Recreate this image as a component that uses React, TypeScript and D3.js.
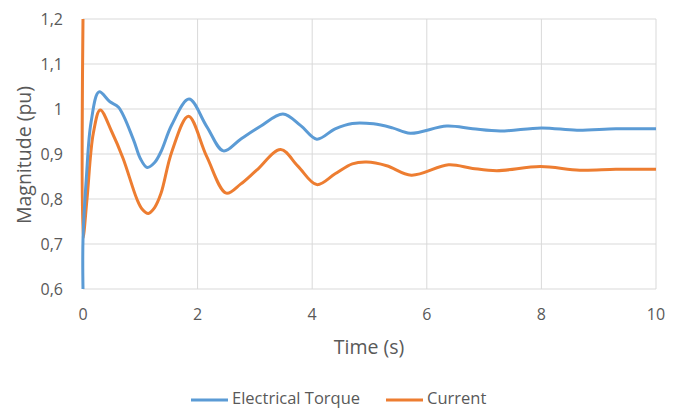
import React from "react";
import * as d3 from "d3";

const xTicks = [0, 2, 4, 6, 8, 10];
const yTicks = [0.6, 0.7, 0.8, 0.9, 1.0, 1.1, 1.2];
const yTickLabels = ["0,6", "0,7", "0,8", "0,9", "1", "1,1", "1,2"];

const torqueT = [0, 0, 0.06, 0.14, 0.28, 0.47, 0.62, 0.88, 1.0, 1.12, 1.25, 1.36, 1.55, 1.85, 2.16, 2.45, 2.75, 3.09, 3.49, 3.8, 4.08, 4.4, 4.7, 5.07, 5.4, 5.71, 6.35, 6.8, 7.28, 8.0, 8.62, 9.3, 10];
const torqueV = [0.6, 0.71, 0.85, 0.97, 1.038, 1.016, 1.004, 0.932, 0.89, 0.87, 0.881, 0.905, 0.965, 1.022, 0.961, 0.907, 0.933, 0.961, 0.989, 0.963, 0.933, 0.956, 0.968, 0.967, 0.958, 0.946, 0.962, 0.956, 0.951, 0.958, 0.953, 0.956, 0.956];

const currentT = [0, 0, 0.07, 0.18, 0.3, 0.5, 0.7, 0.94, 1.03, 1.14, 1.25, 1.36, 1.55, 1.84, 2.16, 2.5, 2.75, 3.03, 3.45, 3.75, 4.08, 4.4, 4.7, 4.95, 5.3, 5.73, 6.38, 6.8, 7.22, 7.98, 8.67, 9.3, 10];
const currentV = [1.2, 0.713, 0.8, 0.946, 0.998, 0.95, 0.89, 0.8, 0.778, 0.768, 0.781, 0.812, 0.905, 0.984, 0.894, 0.813, 0.833, 0.864, 0.91, 0.873, 0.832, 0.856, 0.878, 0.882, 0.874, 0.853, 0.876, 0.868, 0.863, 0.872, 0.864, 0.866, 0.866];

const seriesNames = ["Electrical Torque", "Current"];
const colors = ["#5b9bd5", "#ed7d31"];

export default function App() {
  const W = 680, H = 408;
  const left = 83, right = 656, top = 19, bottom = 289;
  const x = d3.scaleLinear().domain([0, 10]).range([left, right]);
  const y = d3.scaleLinear().domain([0.6, 1.2]).range([bottom, top]);
  const line = d3
    .line<[number, number]>()
    .x((d) => x(d[0]))
    .y((d) => y(d[1]))
    .curve(d3.curveCatmullRom.alpha(0.5));
  const torque = torqueT.map((t, i) => [t, torqueV[i]] as [number, number]);
  const current = currentT.map((t, i) => [t, currentV[i]] as [number, number]);
  const font = "'Open Sans', sans-serif";
  const txt = "#595959";
  return (
    <svg width={W} height={H} style={{ position: "absolute", left: 0, top: 0, background: "#fff" }} fontFamily={font}>
      {yTicks.map((v) => (
        <line key={"gy" + v} x1={left} x2={right} y1={y(v)} y2={y(v)} stroke="#d9d9d9" strokeWidth={1} />
      ))}
      {xTicks.map((v) => (
        <line key={"gx" + v} x1={x(v)} x2={x(v)} y1={top} y2={bottom} stroke="#d9d9d9" strokeWidth={1} />
      ))}
      {yTicks.map((v, i) => (
        <text key={"ty" + v} x={63} y={y(v)} dy="0.35em" textAnchor="end" fontSize={16} fill={txt}>
          {yTickLabels[i]}
        </text>
      ))}
      {xTicks.map((v) => (
        <text key={"tx" + v} x={x(v)} y={314} dy="0.35em" textAnchor="middle" fontSize={16} fill={txt}>
          {v}
        </text>
      ))}
      <text x={369} y={347} dy="0.35em" textAnchor="middle" fontSize={19.5} fill={txt}>
        Time (s)
      </text>
      <text transform={`translate(24,155) rotate(-90)`} dy="0.35em" textAnchor="middle" fontSize={19.5} fill={txt}>
        Magnitude (pu)
      </text>
      <path d={line(current) || ""} fill="none" stroke={colors[1]} strokeWidth={3} strokeLinejoin="round" />
      <path d={line(torque) || ""} fill="none" stroke={colors[0]} strokeWidth={3} strokeLinejoin="round" />
      <g>
        <line x1={191} x2={228} y1={400} y2={400} stroke={colors[0]} strokeWidth={3} />
        <text x={232} y={404} fontSize={16.5} fill={txt}>{seriesNames[0]}</text>
        <line x1={386} x2={423} y1={400} y2={400} stroke={colors[1]} strokeWidth={3} />
        <text x={427} y={404} fontSize={16.5} fill={txt}>{seriesNames[1]}</text>
      </g>
    </svg>
  );
}
